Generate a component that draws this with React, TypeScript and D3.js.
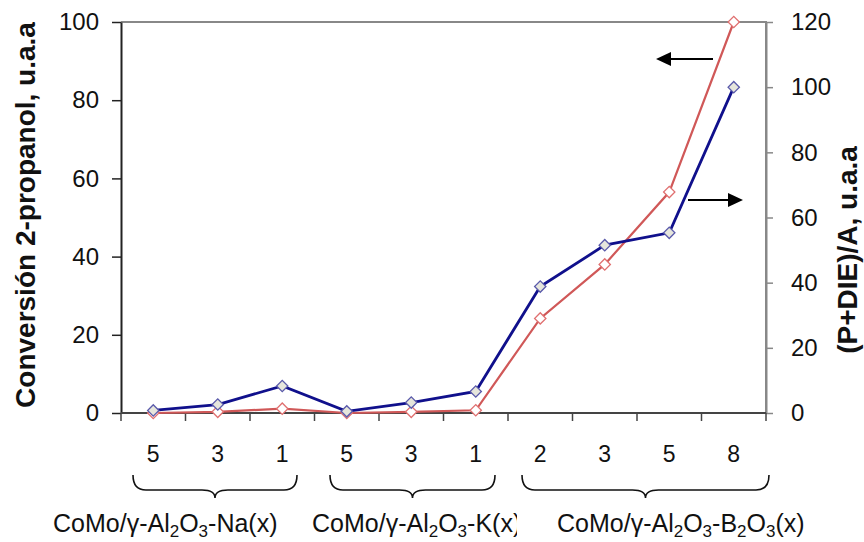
import React, { useRef, useEffect } from 'react'
import * as d3 from 'd3'

// x categories (loading x for each support)
const categories = ["5", "3", "1", "5", "3", "1", "2", "3", "5", "8"]
// groups of categories under each brace
const groupNames = ["Na", "K", "B2O3"]
const groupStart = [0, 3, 6]
const groupEnd = [2, 5, 9]
// Conversión 2-propanol (left axis)
const conversion = [0, 0.3, 1.1, 0, 0.3, 0.7, 24.2, 38, 56.5, 100]
// (P+DIE)/A (right axis)
const ratio = [0.8, 2.6, 8.3, 0.5, 3.2, 6.6, 38.8, 51.5, 55.3, 100]
const leftTicks = [0, 20, 40, 60, 80, 100]
const rightTicks = [0, 20, 40, 60, 80, 100, 120]

const W = 864
const H = 542
const FONT = "'Liberation Sans', Arial, sans-serif"

const App = () => {
  const svgRef = useRef<SVGSVGElement>(null)

  useEffect(() => {
    const svg = d3.select(svgRef.current)
    svg.selectAll("*").remove()

    const left = 121, right = 766, top = 22, bottom = 413

    const x = d3.scaleBand<number>()
      .domain(categories.map((_, i) => i))
      .range([left, right])
    const yL = d3.scaleLinear().domain([0, 100]).range([bottom, top])
    const yR = d3.scaleLinear().domain([0, 120]).range([bottom, top])
    const cx = (i: number) => (x(i) ?? 0) + x.bandwidth() / 2

    // frame: top + right in gray
    svg.append("path")
      .attr("d", `M${left},${top}H${right}V${bottom}`)
      .attr("fill", "none")
      .attr("stroke", "#888")
      .attr("stroke-width", 2)

    // left axis
    const gL = svg.append("g")
      .attr("transform", `translate(${left},0)`)
      .call(d3.axisLeft(yL).tickValues(leftTicks).tickSize(9).tickSizeOuter(0).tickPadding(13))
    gL.select(".domain").attr("stroke", "#222").attr("stroke-width", 2)
    gL.selectAll(".tick line").attr("stroke", "#222").attr("stroke-width", 1.5)
    gL.selectAll(".tick text").attr("font-family", FONT).attr("font-size", 24).attr("fill", "#111")

    // right axis
    const gR = svg.append("g")
      .attr("transform", `translate(${right},0)`)
      .call(d3.axisRight(yR).tickValues(rightTicks).tickSize(7).tickSizeOuter(0).tickPadding(18))
    gR.select(".domain").attr("stroke", "#888").attr("stroke-width", 2)
    gR.selectAll(".tick line").attr("stroke", "#888").attr("stroke-width", 1.5)
    gR.selectAll(".tick text").attr("font-family", FONT).attr("font-size", 24).attr("fill", "#111")

    // bottom axis: band boundaries as ticks
    const gB = svg.append("g")
    gB.append("line")
      .attr("x1", left).attr("x2", right).attr("y1", bottom).attr("y2", bottom)
      .attr("stroke", "#444").attr("stroke-width", 2)
    gB.selectAll("line.tk")
      .data(d3.range(categories.length + 1))
      .join("line")
      .attr("class", "tk")
      .attr("x1", i => left + i * x.step()).attr("x2", i => left + i * x.step())
      .attr("y1", bottom).attr("y2", bottom + 8)
      .attr("stroke", "#444").attr("stroke-width", 1.5)
    gB.selectAll("text")
      .data(categories)
      .join("text")
      .attr("x", (_, i) => cx(i))
      .attr("y", 462)
      .attr("text-anchor", "middle")
      .attr("font-family", FONT).attr("font-size", 23).attr("fill", "#111")
      .text(d => d)

    // braces
    const brace = (x0: number, x1: number, y0: number) => {
      const m = (x0 + x1) / 2, r = 13, h = 23
      const p = d3.path()
      p.moveTo(x0, y0)
      p.quadraticCurveTo(x0, y0 + 15, x0 + r, y0 + 15)
      p.lineTo(m - r, y0 + 15)
      p.quadraticCurveTo(m, y0 + 15, m, y0 + h)
      p.quadraticCurveTo(m, y0 + 15, m + r, y0 + 15)
      p.lineTo(x1 - r, y0 + 15)
      p.quadraticCurveTo(x1, y0 + 15, x1, y0)
      return p.toString()
    }
    const braceIn = [12, 15.5, 14]
    const braceOut = [17.5, 13, -3]
    const labelX = [53, 312, 557]

    svg.append("clipPath").attr("id", "kclip")
      .append("rect").attr("x", 0).attr("y", 490).attr("width", 517).attr("height", 60)

    groupNames.forEach((g, k) => {
      const x0 = (x(groupStart[k]) ?? 0) + braceIn[k]
      const x1 = (x(groupEnd[k]) ?? 0) + x.bandwidth() - braceOut[k]
      svg.append("path")
        .attr("d", brace(x0, x1, 475))
        .attr("fill", "none").attr("stroke", "#111").attr("stroke-width", 1.6)

      const t = svg.append("text")
        .attr("x", labelX[k])
        .attr("y", 532)
        .attr("font-family", FONT).attr("font-size", 25).attr("fill", "#111")
      if (k === 1) t.attr("clip-path", "url(#kclip)")
      const sub = (s: string) => t.append("tspan").attr("font-size", 17).attr("dy", 5).text(s)
      const main = (s: string) => t.append("tspan").attr("dy", -5).text(s)
      t.append("tspan").text("CoMo/γ-Al")
      sub("2"); main("O"); sub("3")
      if (g === "B2O3") {
        main("-B"); sub("2"); main("O"); sub("3"); main("(x)")
      } else {
        main(`-${g}(x)`)
      }
    })

    // axis titles
    svg.append("text")
      .attr("transform", `translate(35,${215}) rotate(-90)`)
      .attr("text-anchor", "middle")
      .attr("font-family", FONT).attr("font-weight", "bold").attr("font-size", 28).attr("fill", "#111")
      .text("Conversión 2-propanol, u.a.a")
    svg.append("text")
      .attr("transform", `translate(857,${250}) rotate(-90)`)
      .attr("text-anchor", "middle")
      .attr("font-family", FONT).attr("font-weight", "bold").attr("font-size", 28).attr("fill", "#111")
      .text("(P+DIE)/A, u.a.a")

    // series
    const diamond = d3.symbol().type(d3.symbolSquare).size(64)
    const lineL = d3.line<number>().x((_, i) => cx(i)).y(d => yL(d))
    const lineR = d3.line<number>().x((_, i) => cx(i)).y(d => yR(d))

    svg.append("path").attr("d", lineL(conversion))
      .attr("fill", "none").attr("stroke", "#d05858").attr("stroke-width", 2.2)
    svg.append("g").selectAll("path")
      .data(conversion)
      .join("path")
      .attr("d", diamond)
      .attr("transform", (d, i) => `translate(${cx(i)},${yL(d)}) rotate(45)`)
      .attr("fill", "#fff").attr("stroke", "#e07070").attr("stroke-width", 1.3)

    svg.append("path").attr("d", lineR(ratio))
      .attr("fill", "none").attr("stroke", "#10108c").attr("stroke-width", 2.8)
    svg.append("g").selectAll("path")
      .data(ratio)
      .join("path")
      .attr("d", diamond)
      .attr("transform", (d, i) => `translate(${cx(i)},${yR(d)}) rotate(45)`)
      .attr("fill", "#e6e6dc").attr("stroke", "#5a5aaa").attr("stroke-width", 1.3)

    // arrows pointing to each series' axis
    const arrow = (x0: number, x1: number, y: number) => {
      const dir = Math.sign(x1 - x0)
      const hx = x1 - dir * 15
      svg.append("line").attr("x1", x0).attr("x2", hx).attr("y1", y).attr("y2", y)
        .attr("stroke", "#000").attr("stroke-width", 2)
      svg.append("path")
        .attr("d", `M${x1},${y}L${hx},${y - 7}L${hx},${y + 7}Z`)
        .attr("fill", "#000")
    }
    arrow(713, 656, 59)
    arrow(688, 743, 200)
  }, [])

  return (
    <svg ref={svgRef} width={W} height={H}
      style={{ position: "absolute", left: 0, top: 0, background: "#fff" }} />
  )
}

export default App
